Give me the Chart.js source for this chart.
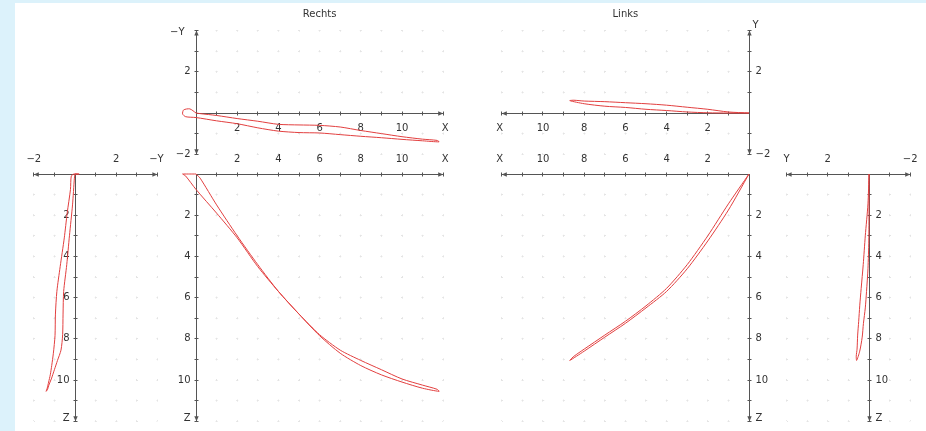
<!DOCTYPE html>
<html>
<head>
<meta charset="utf-8">
<script src="https://cdn.jsdelivr.net/npm/chart.js@4.4.1/dist/chart.umd.min.js"></script>
<style>
html,body{margin:0;padding:0;}
body{width:926px;height:431px;background:#dcf2fb;position:relative;overflow:hidden;font-family:"DejaVu Sans",sans-serif;}
#sheet{position:absolute;left:15px;top:3px;right:0;bottom:0;background:#fff;}
canvas{position:absolute;}
.title{position:absolute;top:8px;font-size:10px;line-height:12px;color:#333;transform:translateX(-50%);white-space:nowrap;}
</style>
</head>
<body>
<div id="sheet"></div>
<script>
// ---------- data ----------
const panelTitles = ['Rechts', 'Links'];

// right hand trajectory (X, -Y, Z)
const rechtsX      = [0, -0.3, -0.6, -0.65, -0.5, 0, 1, 2, 3, 4, 5, 6, 7, 8, 9, 10, 11, 11.8, 11.7, 11, 10, 9, 8, 7, 6, 5, 4, 3, 2, 1, 0.2, 0];
const rechtsMinusY = [0, 0.2, 0.15, -0.05, -0.18, -0.22, -0.38, -0.52, -0.72, -0.88, -0.95, -0.97, -1.05, -1.13, -1.2, -1.28, -1.35, -1.4, -1.33, -1.27, -1.15, -1.0, -0.85, -0.68, -0.6, -0.58, -0.55, -0.4, -0.27, -0.12, -0.03, 0];
const rechtsZ      = [0, 0, 0, 0, 0.1, 0.75, 1.9, 3.1, 4.5, 5.7, 6.8, 7.85, 8.7, 9.3, 9.75, 10.1, 10.4, 10.55, 10.45, 10.25, 9.95, 9.5, 9.05, 8.55, 7.8, 6.8, 5.7, 4.4, 3.0, 1.5, 0.2, 0];

// left hand trajectory (X, Y, Z)
const linksX = [0, 1, 2, 3, 4, 5, 6, 7, 8, 8.7, 8.5, 8, 7, 6, 5, 4, 3, 2, 1, 0];
const linksY = [0, 0, 0.01, 0.05, 0.12, 0.18, 0.27, 0.33, 0.45, 0.6, 0.62, 0.58, 0.55, 0.5, 0.45, 0.38, 0.28, 0.18, 0.05, 0];
const linksZ = [0, 1.75, 3.25, 4.6, 5.7, 6.5, 7.25, 7.92, 8.6, 9.05, 8.85, 8.5, 7.82, 7.15, 6.4, 5.55, 4.4, 3.0, 1.45, 0];

// tick labels
const xTickValues = [2, 4, 6, 8, 10];
const zTickValues = [2, 4, 6, 8, 10];
const yTickValues = [-2, 2];
const xAxisName = 'X', zAxisName = 'Z', yAxisName = 'Y', negYAxisName = '\u2212Y';
const xAxisEnd = 12, zAxisEnd = 12, yAxisEnd = 4, yAxisStart = -2;

// ---------- styling ----------
const PPU = 20.6;
const RED = '#e23f3f';
const AXIS = '#555';
const TEXT = '#333';
const GRID = '#e4e4e4';
const FONT = '10px "DejaVu Sans", sans-serif';

function fmt(v){ return v < 0 ? '\u2212' + Math.abs(v) : String(v); }
function lab(arr){ return arr.map(v => [v, fmt(v)]); }
function pts(a, b){ return a.map((v, i) => ({x: v, y: b[i]})); }

const crossAxes = {
  id: 'crossAxes',
  beforeDatasetsDraw(chart, args, o) {
    if (!o || !o.h) return;
    const ctx = chart.ctx, xs = chart.scales.x, ys = chart.scales.y;
    const snap = p => Math.floor(p) + 0.5;
    const h = o.h, v = o.v;
    const hx = val => xs.getPixelForValue(val);
    const vy = val => ys.getPixelForValue(val);
    const y0 = snap(vy(0));
    const x0 = snap(hx(0));
    ctx.save();
    ctx.strokeStyle = AXIS; ctx.fillStyle = AXIS; ctx.lineWidth = 1;
    const seg = (x1, y1, x2, y2) => { ctx.beginPath(); ctx.moveTo(x1, y1); ctx.lineTo(x2, y2); ctx.stroke(); };
    const arrow = (tx, ty, dx, dy) => {
      const L = 5, W = 2.2;
      ctx.beginPath(); ctx.moveTo(tx, ty);
      ctx.lineTo(tx - dx * L - dy * W, ty - dy * L + dx * W);
      ctx.lineTo(tx - dx * L + dy * W, ty - dy * L - dx * W);
      ctx.closePath(); ctx.fill();
    };
    // horizontal axis
    seg(hx(h.from), y0, hx(h.to), y0);
    for (let t = Math.ceil(h.from); t <= h.to; t++) {
      if (t === 0) continue;
      const px = snap(hx(t)); seg(px, y0 - 2, px, y0 + 2);
    }
    h.arrows.forEach(a => {
      const other = a === h.from ? h.to : h.from;
      arrow(hx(a), y0, Math.sign(hx(a) - hx(other)), 0);
    });
    // vertical axis
    seg(x0, vy(v.from), x0, vy(v.to));
    for (let t = Math.ceil(v.from); t <= v.to; t++) {
      if (t === 0) continue;
      const py = snap(vy(t)); seg(x0 - 2, py, x0 + 2, py);
    }
    v.arrows.forEach(a => {
      const other = a === v.from ? v.to : v.from;
      arrow(x0, vy(a), 0, Math.sign(vy(a) - vy(other)));
    });
    // labels
    ctx.fillStyle = TEXT; ctx.font = FONT; ctx.textBaseline = 'middle';
    ctx.textAlign = 'center';
    const ly = y0 + (h.side === 'below' ? 15 : -15);
    h.labels.forEach(([val, txt]) => ctx.fillText(txt, hx(val), ly));
    ctx.fillText(h.name[1], hx(h.name[0]) + (h.nameDx || 0), ly);
    const s = v.side === 'left' ? -1 : 1;
    ctx.textAlign = v.side === 'left' ? 'right' : 'left';
    v.labels.forEach(([val, txt]) => ctx.fillText(txt, x0 + s * 6, vy(val)));
    ctx.fillText(v.name[1], x0 + s * (6 + (v.nameDx || 0)), vy(v.name[0]) + (v.nameDy || 0));
    ctx.restore();
  }
};
Chart.register(crossAxes);

const panels = [
  { origin:[196,113], box:[160,18,300,150], xr:[0,xAxisEnd], yr:[yAxisStart,yAxisEnd], xRev:false, yDown:false,
    data: pts(rechtsX, rechtsMinusY),
    h:{from:0,to:xAxisEnd,arrows:[xAxisEnd],labels:lab(xTickValues),name:[xAxisEnd,xAxisName],side:'below',nameDx:2},
    v:{from:yAxisStart,to:yAxisEnd,arrows:[yAxisEnd,yAxisStart],labels:lab(yTickValues),name:[yAxisEnd,negYAxisName],side:'left',nameDx:6,nameDy:2} },
  { origin:[196,174], box:[160,150,300,281], xr:[0,xAxisEnd], yr:[0,zAxisEnd], xRev:false, yDown:true,
    data: pts(rechtsX, rechtsZ),
    h:{from:0,to:xAxisEnd,arrows:[xAxisEnd],labels:lab(xTickValues),name:[xAxisEnd,xAxisName],side:'above',nameDx:2},
    v:{from:0,to:zAxisEnd,arrows:[zAxisEnd],labels:lab(zTickValues),name:[zAxisEnd,zAxisName],side:'left',nameDy:-3} },
  { origin:[75,174], box:[15,150,150,281], xr:[yAxisStart,yAxisEnd], yr:[0,zAxisEnd], xRev:false, yDown:true,
    data: pts(rechtsMinusY, rechtsZ),
    h:{from:yAxisStart,to:yAxisEnd,arrows:[yAxisEnd,yAxisStart],labels:lab(yTickValues),name:[yAxisEnd,negYAxisName],side:'above',nameDx:-1},
    v:{from:0,to:zAxisEnd,arrows:[zAxisEnd],labels:lab(zTickValues),name:[zAxisEnd,zAxisName],side:'left',nameDy:-3} },
  { origin:[749,113], box:[480,18,300,150], xr:[0,xAxisEnd], yr:[yAxisStart,yAxisEnd], xRev:true, yDown:false,
    data: pts(linksX, linksY),
    h:{from:0,to:xAxisEnd,arrows:[xAxisEnd],labels:lab(xTickValues),name:[xAxisEnd,xAxisName],side:'below',nameDx:-2},
    v:{from:yAxisStart,to:yAxisEnd,arrows:[yAxisEnd,yAxisStart],labels:lab(yTickValues),name:[yAxisEnd,yAxisName],side:'right',nameDx:-3,nameDy:-5} },
  { origin:[749,174], box:[480,150,300,281], xr:[0,xAxisEnd], yr:[0,zAxisEnd], xRev:true, yDown:true,
    data: pts(linksX, linksZ),
    h:{from:0,to:xAxisEnd,arrows:[xAxisEnd],labels:lab(xTickValues),name:[xAxisEnd,xAxisName],side:'above',nameDx:-2},
    v:{from:0,to:zAxisEnd,arrows:[zAxisEnd],labels:lab(zTickValues),name:[zAxisEnd,zAxisName],side:'right',nameDy:-3} },
  { origin:[869,174], box:[770,150,156,281], xr:[yAxisStart,yAxisEnd], yr:[0,zAxisEnd], xRev:true, yDown:true,
    data: pts(linksY, linksZ),
    h:{from:yAxisStart,to:yAxisEnd,arrows:[yAxisEnd,yAxisStart],labels:lab(yTickValues),name:[yAxisEnd,yAxisName],side:'above'},
    v:{from:0,to:zAxisEnd,arrows:[zAxisEnd],labels:lab(zTickValues),name:[zAxisEnd,zAxisName],side:'right',nameDy:-3} }
];

function scaleOpts(min, max, reverse){
  return {
    type:'linear', min, max, reverse,
    ticks:{display:false, stepSize:1},
    grid:{color:GRID, lineWidth:1, drawTicks:false},
    border:{display:false, dash:[2, PPU - 2], dashOffset:1}
  };
}

panels.forEach(p => {
  const [ox, oy] = p.origin;
  const [bx, by, bw, bh] = p.box;
  const left  = p.xRev ? ox - p.xr[1] * PPU : ox + p.xr[0] * PPU;
  const right = p.xRev ? ox - p.xr[0] * PPU : ox + p.xr[1] * PPU;
  const top    = p.yDown ? oy + p.yr[0] * PPU : oy - p.yr[1] * PPU;
  const bottom = p.yDown ? oy + p.yr[1] * PPU : oy - p.yr[0] * PPU;
  const cv = document.createElement('canvas');
  cv.width = bw; cv.height = bh;
  cv.style.left = bx + 'px'; cv.style.top = by + 'px';
  cv.style.width = bw + 'px'; cv.style.height = bh + 'px';
  document.body.appendChild(cv);
  new Chart(cv, {
    type:'scatter',
    data:{datasets:[{data:p.data, showLine:true, borderColor:RED, borderWidth:1, pointRadius:0, tension:0.25, fill:false, clip:false}]},
    options:{
      responsive:false, animation:false, devicePixelRatio:1,
      events:[],
      elements:{line:{capBezierPoints:false}},
      layout:{padding:{left:left - bx, right:bx + bw - right, top:top - by, bottom:by + bh - bottom}},
      plugins:{legend:{display:false}, tooltip:{enabled:false}, title:{display:false},
        crossAxes:{h:p.h, v:p.v}},
      scales:{ x:scaleOpts(p.xr[0], p.xr[1], p.xRev), y:scaleOpts(p.yr[0], p.yr[1], p.yDown) }
    }
  });
});

// titles
[[panelTitles[0], 196 + 6 * PPU], [panelTitles[1], 749 - 6 * PPU]].forEach(([t, cx]) => {
  const d = document.createElement('div');
  d.className = 'title'; d.textContent = t; d.style.left = cx + 'px';
  document.body.appendChild(d);
});
</script>
</body>
</html>
